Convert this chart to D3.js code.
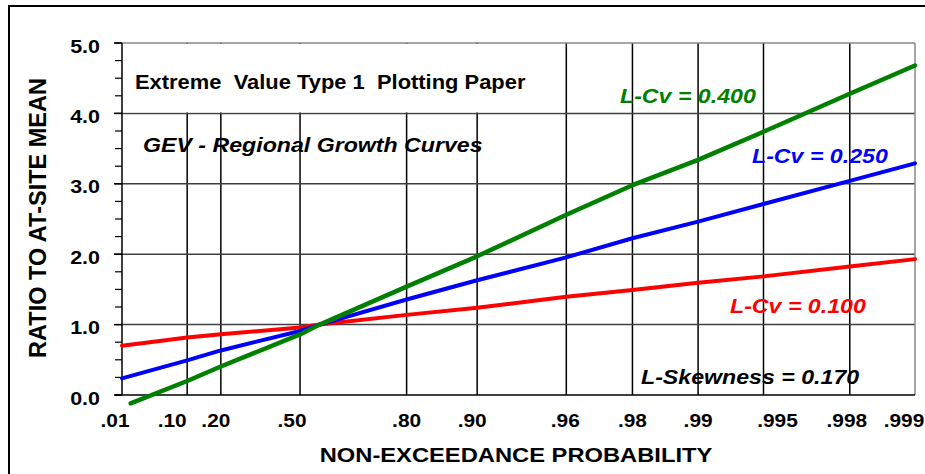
<!DOCTYPE html>
<html>
<head>
<meta charset="utf-8">
<script src="https://cdn.jsdelivr.net/npm/d3@7"></script>
<style>
  html, body { margin: 0; padding: 0; background: #fff; }
  svg { display: block; }
  text { font-family: "Liberation Sans", Arial, sans-serif; font-weight: bold; }
</style>
</head>
<body>
<svg id="chart" width="925" height="474"></svg>
<script>
// ---------- data ----------
const tickProbs  = [0.01, 0.10, 0.20, 0.50, 0.80, 0.90, 0.96, 0.98, 0.99, 0.995, 0.998, 0.999];
const tickLabels = [".01", ".10", ".20", ".50", ".80", ".90", ".96", ".98", ".99", ".995", ".998", ".999"];
const yTicks      = [0, 1, 2, 3, 4, 5];
const yTickLabels = ["0.0", "1.0", "2.0", "3.0", "4.0", "5.0"];

const curveProbs = [0.01, 0.10, 0.20, 0.50, 0.57, 0.80, 0.90, 0.96, 0.98, 0.99, 0.995, 0.998, 0.999];
const lcv100     = [0.70, 0.816, 0.863, 0.96, 1.00, 1.138, 1.238, 1.396, 1.49, 1.596, 1.685, 1.824, 1.93];
const lcv250     = [0.237, 0.491, 0.633, 0.91, 1.00, 1.356, 1.63, 1.955, 2.227, 2.463, 2.713, 3.041, 3.29];
const lcv400Probs = [0.015, 0.10, 0.20, 0.50, 0.57, 0.80, 0.90, 0.96, 0.98, 0.99, 0.995, 0.998, 0.999];
const lcv400     = [-0.12, 0.199, 0.405, 0.86, 1.00, 1.54, 1.97, 2.56, 2.98, 3.34, 3.74, 4.28, 4.68];

// label nudges (px) for the x tick labels, as placed on the original paper
const tickLabelDx = [-7, -15, -5, -8, 0, -5, -1, 0, 0, 14, -3, -11];

(function () {
// ---------- layout ----------
const SX = 1.13; // horizontal text stretch seen in the reference
const pL = 122, pR = 915, pT = 43, pB = 395;
const gumbel = p => -Math.log(-Math.log(p));

const xLin = d3.scaleLinear().domain([gumbel(0.01), gumbel(0.999)]).range([pL, pR]);
const x = p => xLin(gumbel(p));
const y = d3.scaleLinear().domain([0, 5]).range([pB, pT]);

const svg = d3.select("#chart");

// outer frame
svg.append("rect").attr("x", 9).attr("y", 6).attr("width", 940).attr("height", 500)
  .attr("fill", "none").attr("stroke", "#000").attr("stroke-width", 2);

const g = svg.append("g");

// vertical grid lines
g.selectAll("line.vg").data(tickProbs.slice(1, -1)).enter().append("line")
  .attr("x1", d => x(d)).attr("x2", d => x(d))
  .attr("y1", pT).attr("y2", pB)
  .attr("stroke", "#000").attr("stroke-width", 1.5);

// horizontal grid lines
g.selectAll("line.hg").data(yTicks.slice(1, -1)).enter().append("line")
  .attr("x1", pL).attr("x2", pR)
  .attr("y1", d => y(d)).attr("y2", d => y(d))
  .attr("stroke", "#404040").attr("stroke-width", 1.5);

// title box (white, covers the grid)
g.append("rect").attr("x", pL + 1).attr("y", pT + 1)
  .attr("width", x(0.96) - pL - 3).attr("height", y(4) - pT - 2)
  .attr("fill", "#fff");

// plot border top/right (gray)
g.append("line").attr("x1", pL).attr("x2", pR).attr("y1", pT).attr("y2", pT)
  .attr("stroke", "#888").attr("stroke-width", 1.5);
g.append("line").attr("x1", pR).attr("x2", pR).attr("y1", pT).attr("y2", pB)
  .attr("stroke", "#888").attr("stroke-width", 1.5);

// y axis
const yMinor = d3.range(0, 5.001, 0.25);
g.selectAll("line.ymin").data(yMinor).enter().append("line")
  .attr("x1", pL - 7).attr("x2", pL)
  .attr("y1", d => y(d)).attr("y2", d => y(d))
  .attr("stroke", "#000").attr("stroke-width", 1.2);
g.selectAll("line.ymaj").data(yTicks).enter().append("line")
  .attr("x1", pL - 8).attr("x2", pL)
  .attr("y1", d => y(d)).attr("y2", d => y(d))
  .attr("stroke", "#000").attr("stroke-width", 1.5);
g.append("line").attr("x1", pL).attr("x2", pL).attr("y1", pT).attr("y2", pB)
  .attr("stroke", "#000").attr("stroke-width", 1.5);
// x axis
g.append("line").attr("x1", pL - 7).attr("x2", pR).attr("y1", pB).attr("y2", pB)
  .attr("stroke", "#000").attr("stroke-width", 1.5);

// helper for stretched text
function stext(sel, px, py, str, size, anchor, fill, italic) {
  return sel.append("text")
    .attr("transform", `translate(${px},${py}) scale(${SX},1)`)
    .attr("text-anchor", anchor || "start")
    .attr("font-size", size)
    .attr("font-style", italic ? "italic" : "normal")
    .attr("fill", fill || "#000")
    .style("white-space", "pre")
    .text(str);
}

// y tick labels
yTicks.forEach((v, i) => stext(g, 100, y(v) + 9.5, yTickLabels[i], 19, "end"));
// x tick labels
tickProbs.forEach((p, i) => stext(g, x(p) + tickLabelDx[i], 427, tickLabels[i], 18.5, "middle"));

// axis titles
stext(g, 516, 462, "NON-EXCEEDANCE PROBABILITY", 21, "middle");
g.append("text").attr("transform", "translate(46,218) rotate(-90)")
  .attr("text-anchor", "middle").attr("font-size", 23.5).attr("fill", "#000")
  .text("RATIO TO AT-SITE MEAN");

// curves
const line = d3.line().x(d => x(d[0])).y(d => y(d[1]));
const series = [
  { probs: curveProbs, vals: lcv100, color: "#ff0000", w: 4 },
  { probs: curveProbs, vals: lcv250, color: "#0000ff", w: 4 },
  { probs: lcv400Probs, vals: lcv400, color: "#008000", w: 4.5 }
];
series.forEach(s => {
  g.append("path").datum(s.probs.map((p, i) => [p, s.vals[i]]))
    .attr("d", line).attr("fill", "none")
    .attr("stroke", s.color).attr("stroke-width", s.w)
    .attr("stroke-linejoin", "round").attr("stroke-linecap", "round");
});

// annotations
stext(g, 135, 89, "Extreme  Value Type 1  Plotting Paper", 19.4, "start", "#000", false);
stext(g, 143, 151.5, "GEV - Regional Growth Curves", 20.5, "start", "#000", true);
stext(g, 620, 102.5, "L-Cv = 0.400", 20.5, "start", "#008000", true);
stext(g, 752, 163, "L-Cv = 0.250", 20.5, "start", "#0000ff", true);
stext(g, 730, 313, "L-Cv = 0.100", 20.5, "start", "#ff0000", true);
stext(g, 641, 384, "L-Skewness = 0.170", 20.5, "start", "#000", true);
})();
</script>
</body>
</html>
